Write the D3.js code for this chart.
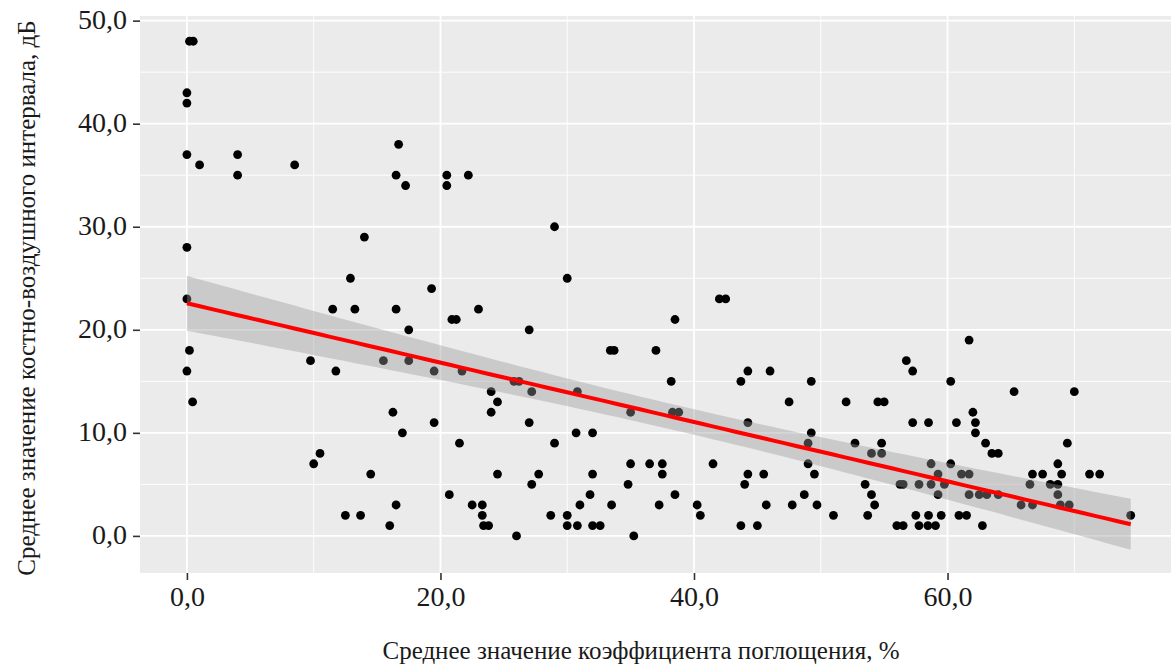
<!doctype html>
<html lang="ru">
<head>
<meta charset="UTF-8">
<title>Scatter</title>
<script src="https://cdn.jsdelivr.net/npm/d3@7"></script>
<style>
  body { margin: 0; background: #fff; }
  svg text { font-family: "Liberation Serif", "DejaVu Serif", serif; }
</style>
</head>
<body>
<div id="viz"></div>
<script>

// absorption coefficient, %
var xs = [0.2,0.5,0,0,0,1.0,4.0,4.0,8.5,16.7,16.5,17.25,0,14.0,12.9,19.3,
  0,0.2,0,0.45,11.5,13.25,16.5,17.5,9.75,15.5,17.5,11.75,19.5,16.25,19.5,17.0,10.5,10.0,14.5,16.5,12.5,13.7,16.0,
  20.5,20.5,22.2,29.0,30.0,20.9,21.25,23.0,27.0,33.4,33.7,37.0,38.5,42.0,42.5,38.2,21.7,
  24.0,25.8,26.2,27.2,30.8,35.0,38.3,38.8,24.5,24.0,27.0,30.7,32.0,21.5,29.0,35.0,36.5,37.5,37.5,41.5,
  24.5,27.75,32.0,27.2,34.8,20.7,31.8,38.5,22.5,23.3,31.0,33.5,37.25,40.25,23.3,28.7,30.0,40.5,
  23.4,23.8,30.0,30.8,32.0,32.6,26.0,35.25,
  56.75,57.25,61.7,43.7,44.25,46.0,49.25,60.25,47.5,52.0,54.5,55.0,57.25,58.5,60.7,62.0,62.2,62.2,
  44.25,49.25,49.0,52.7,54.8,54.0,54.8,49.0,58.7,60.25,44.25,45.5,49.5,59.25,61.1,61.7,
  44.0,53.5,56.25,56.5,57.75,58.7,59.75,48.7,54.0,59.25,61.7,45.7,47.75,49.7,54.25,
  51.0,53.7,57.5,58.5,59.5,60.9,61.5,43.7,45.0,56.0,56.5,57.75,58.45,59.05,62.75,
  65.25,70.0,63.0,63.5,64.0,69.45,68.7,66.7,67.5,69.0,71.2,72.0,66.5,68.1,68.7,
  62.5,63.1,64.0,68.7,65.8,66.7,68.9,69.6,74.45];

// air-bone gap, dB
var ys = [48,48,43,42,37,36,37,35,36,38,35,34,28,29,25,24,
  23,18,16,13,22,22,22,20,17,17,17,16,16,12,11,10,8,7,6,3,2,2,1,
  35,34,35,30,25,21,21,22,20,18,18,18,21,23,23,15,16,
  14,15,15,14,14,12,12,12,13,12,11,10,10,9,9,7,7,7,6,7,
  6,6,6,5,5,4,4,4,3,3,3,3,3,3,2,2,2,2,
  1,1,1,1,1,1,0,0,
  17,16,19,15,16,16,15,15,13,13,13,13,11,11,11,12,11,10,
  11,10,9,9,9,8,8,7,7,7,6,6,6,6,6,6,
  5,5,5,5,5,5,5,4,4,4,4,3,3,3,3,
  2,2,2,2,2,2,2,1,1,1,1,1,1,1,1,
  14,14,9,8,8,9,7,6,6,6,6,6,5,5,5,
  4,4,4,4,3,3,3,3,2];

var xTicks = [0, 20, 40, 60];
var yTicks = [0, 10, 20, 30, 40, 50];
var xMinor = [10, 30, 50, 70];
var yMinor = [5, 15, 25, 35, 45];
var xTitle = "Среднее значение коэффициента поглощения, %";
var yTitle = "Среднее значение костно-воздушного интервала, дБ";

var W = 1171, H = 666;
var pLeft = 140, pRight = 1177, pTop = 16, pBottom = 573;

var x = d3.scaleLinear().domain([-3.7, 78.1]).range([pLeft, pRight]);
var y = d3.scaleLinear().domain([-3.6, 50.45]).range([pBottom, pTop]);
var fmt = function(v) { return d3.format(".1f")(v).replace(".", ","); };

// linear fit with 95% band, like geom_smooth(method = "lm")
var pts = xs.map(function(d, i) { return {x: d, y: ys[i]}; });
var n = pts.length;
var mx = d3.mean(xs), my = d3.mean(ys);
var sxx = d3.sum(xs, function(d) { return (d - mx) * (d - mx); });
var sxy = d3.sum(pts, function(d) { return (d.x - mx) * (d.y - my); });
var b = sxy / sxx, a = my - b * mx;
var sse = d3.sum(pts, function(d) { var r = d.y - (a + b * d.x); return r * r; });
var s = Math.sqrt(sse / (n - 2));
var tCrit = 1.973;
var x0 = d3.min(xs), x1 = d3.max(xs);
var fit = d3.range(80).map(function(i) {
  var xv = x0 + (x1 - x0) * i / 79;
  var yv = a + b * xv;
  var se = s * Math.sqrt(1 / n + (xv - mx) * (xv - mx) / sxx);
  return {x: xv, y: yv, lo: yv - tCrit * se, hi: yv + tCrit * se};
});

var svg = d3.select("#viz").append("svg").attr("width", W).attr("height", H);

svg.append("rect").attr("x", pLeft).attr("y", pTop)
  .attr("width", pRight - pLeft).attr("height", pBottom - pTop).attr("fill", "#ebebeb");

var grid = svg.append("g");
grid.selectAll(".ymin").data(yMinor).enter().append("line")
  .attr("x1", pLeft).attr("x2", pRight)
  .attr("y1", function(d) { return y(d); }).attr("y2", function(d) { return y(d); })
  .attr("stroke", "#fff").attr("stroke-width", 0.9);
grid.selectAll(".xmin").data(xMinor).enter().append("line")
  .attr("y1", pTop).attr("y2", pBottom)
  .attr("x1", function(d) { return x(d); }).attr("x2", function(d) { return x(d); })
  .attr("stroke", "#fff").attr("stroke-width", 0.9);
grid.selectAll(".ymaj").data(yTicks).enter().append("line")
  .attr("x1", pLeft).attr("x2", pRight)
  .attr("y1", function(d) { return y(d); }).attr("y2", function(d) { return y(d); })
  .attr("stroke", "#fff").attr("stroke-width", 1.8);
grid.selectAll(".xmaj").data(xTicks).enter().append("line")
  .attr("y1", pTop).attr("y2", pBottom)
  .attr("x1", function(d) { return x(d); }).attr("x2", function(d) { return x(d); })
  .attr("stroke", "#fff").attr("stroke-width", 1.8);

svg.append("g").selectAll("circle").data(pts).enter().append("circle")
  .attr("cx", function(d) { return x(d.x); })
  .attr("cy", function(d) { return y(d.y); })
  .attr("r", 4.4)
  .attr("fill", "#000");

var band = d3.area()
  .x(function(d) { return x(d.x); })
  .y0(function(d) { return y(d.lo); })
  .y1(function(d) { return y(d.hi); });
svg.append("path").datum(fit).attr("d", band)
  .attr("fill", "#999").attr("fill-opacity", 0.4);

var line = d3.line().x(function(d) { return x(d.x); }).y(function(d) { return y(d.y); });
svg.append("path").datum(fit).attr("d", line)
  .attr("fill", "none").attr("stroke", "red").attr("stroke-width", 4);

// axes
var xAxis = d3.axisBottom(x).tickValues(xTicks).tickFormat(fmt).tickSize(7).tickPadding(6);
var gx = svg.append("g").attr("transform", "translate(0," + pBottom + ")").call(xAxis);
gx.select(".domain").remove();
gx.selectAll(".tick line").attr("stroke", "#333").attr("stroke-width", 1.6);
gx.selectAll(".tick text").attr("font-size", 28).attr("fill", "#1a1a1a")
  .attr("font-family", "Liberation Serif");

var yAxis = d3.axisLeft(y).tickValues(yTicks).tickFormat(fmt).tickSize(7).tickPadding(6);
var gy = svg.append("g").attr("transform", "translate(" + pLeft + ",0)").call(yAxis);
gy.select(".domain").remove();
gy.selectAll(".tick line").attr("stroke", "#333").attr("stroke-width", 1.6);
gy.selectAll(".tick text").attr("font-size", 28).attr("fill", "#1a1a1a")
  .attr("font-family", "Liberation Serif").attr("dy", "0.28em");

svg.append("text").text(xTitle)
  .attr("x", 641).attr("y", 659).attr("text-anchor", "middle")
  .attr("font-size", 25).attr("fill", "#1a1a1a");

svg.append("text").text(yTitle)
  .attr("transform", "translate(35,298) rotate(-90)").attr("text-anchor", "middle")
  .attr("font-size", 25).attr("fill", "#1a1a1a");

</script>
</body>
</html>
